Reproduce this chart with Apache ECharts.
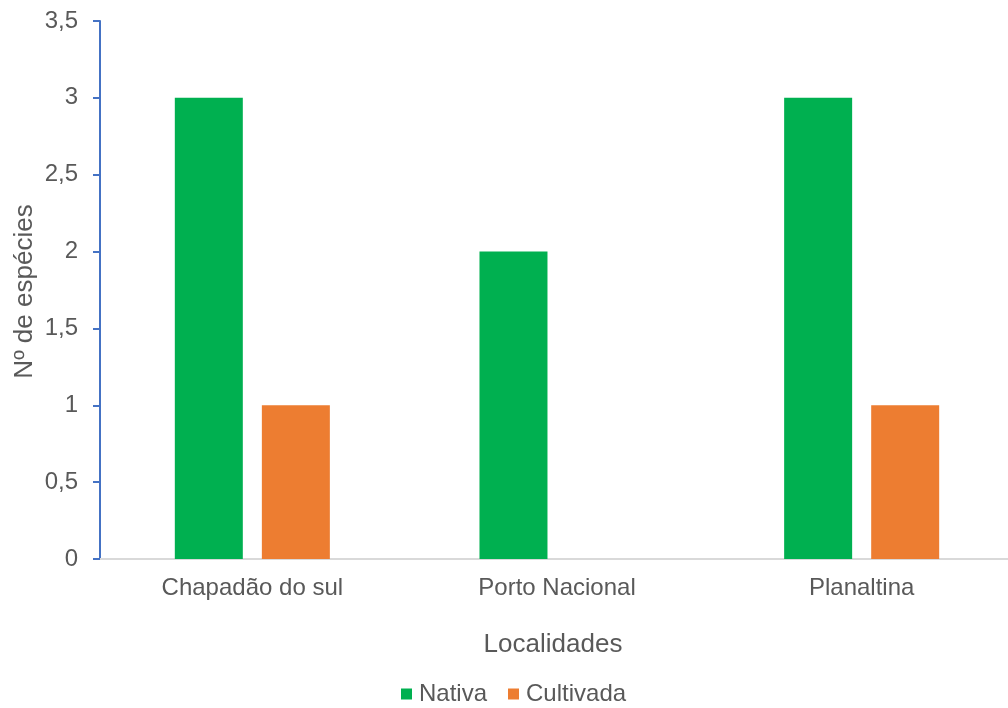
<!DOCTYPE html>
<html><head><meta charset="utf-8">
<script src="https://cdn.jsdelivr.net/npm/echarts@6/dist/echarts.min.js"></script>
<style>html,body{margin:0;padding:0;background:#fff}#c{width:1008px;height:708px}</style>
</head><body><div id="c"></div>
<script>
const categories = ['Chapadão do sul', 'Porto Nacional', 'Planaltina'];
const nativa = [3, 2, 3];
const cultivada = [1, 0, 1];
const yTicks = [0, 0.5, 1, 1.5, 2, 2.5, 3, 3.5];

const font = 'Liberation Sans, Arial, sans-serif';
const chart = echarts.init(document.getElementById('c'));
chart.setOption({
  animation: false,
  textStyle: { fontFamily: font },
  grid: { left: 100, right: -6, top: 21, bottom: 149, containLabel: false, outerBoundsMode: 'none' },
  legend: {
    bottom: -3, left: 396, itemWidth: 11, itemHeight: 11, itemGap: 21,
    icon: 'rect',
    textStyle: { fontSize: 24, color: '#595959', fontFamily: font, padding: [0, 0, 0, 2] },
    data: ['Nativa', 'Cultivada']
  },
  xAxis: {
    type: 'category', data: categories,
    name: 'Localidades', nameLocation: 'middle', nameGap: 73,
    nameTextStyle: { fontSize: 26, color: '#595959', fontFamily: font, padding: [0, 8, 0, 0] },
    axisLine: { lineStyle: { color: '#d9d9d9', width: 2 } },
    axisTick: { show: false },
    axisLabel: { fontSize: 24, color: '#595959', margin: 17, fontFamily: font }
  },
  yAxis: {
    type: 'value', min: 0, max: 3.5, interval: 0.5,
    name: 'Nº de espécies', nameLocation: 'middle', nameGap: 62, nameRotate: 90,
    nameMoveOverlap: false,
    nameTextStyle: { fontSize: 26, color: '#595959', fontFamily: font, padding: [0, 3, 0, 0] },
    axisLine: { show: true, lineStyle: { color: '#4472C4', width: 2 } },
    axisTick: { show: true, length: 7, lineStyle: { color: '#4472C4', width: 2 } },
    splitLine: { show: false },
    axisLabel: {
      fontSize: 24, color: '#595959', margin: 22, fontFamily: font,
      formatter: v => String(v).replace('.', ',')
    }
  },
  series: [
    { name: 'Nativa', type: 'bar', data: nativa, barWidth: 68, barGap: '28%', itemStyle: { color: '#00B050' } },
    { name: 'Cultivada', type: 'bar', data: cultivada, barWidth: 68, itemStyle: { color: '#ED7D31' } }
  ]
});
</script></body></html>
